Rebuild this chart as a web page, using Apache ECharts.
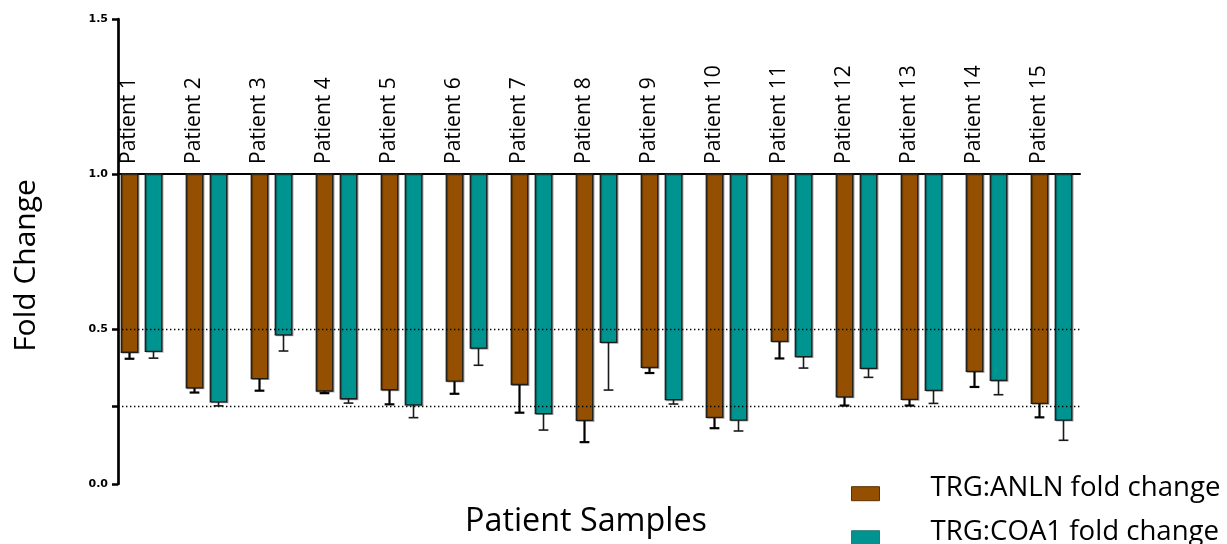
<!DOCTYPE html>
<html>
<head>
<meta charset="utf-8">
<script src="https://cdn.jsdelivr.net/npm/echarts@6/dist/echarts.min.js"></script>
<style>
html,body{margin:0;padding:0;background:#fff;}
#chart{width:1227px;height:544px;}
</style>
</head>
<body>
<div id="chart"></div>
<script>
// ---- data ----
const patients = ['Patient 1','Patient 2','Patient 3','Patient 4','Patient 5','Patient 6','Patient 7','Patient 8','Patient 9','Patient 10','Patient 11','Patient 12','Patient 13','Patient 14','Patient 15'];
const anlnFold = [0.425,0.310,0.340,0.300,0.304,0.332,0.321,0.205,0.376,0.215,0.460,0.281,0.273,0.363,0.260];
const anlnErr  = [0.021,0.015,0.039,0.007,0.047,0.041,0.091,0.070,0.018,0.035,0.055,0.028,0.020,0.050,0.045];
const coa1Fold = [0.428,0.265,0.481,0.275,0.255,0.438,0.227,0.457,0.272,0.206,0.411,0.373,0.302,0.334,0.206];
const coa1Err  = [0.022,0.013,0.052,0.014,0.041,0.055,0.053,0.154,0.014,0.035,0.037,0.029,0.042,0.046,0.065];
const yTickValues = [0, 0.25, 0.5, 1.0, 1.5];
const yLabelValues = [0, 0.5, 1.0, 1.5];
const refLines = [0.5, 0.25];
const baseline = 1.0;
const seriesNames = ['TRG:ANLN fold change', 'TRG:COA1 fold change'];

const ORANGE = '#945000';
const TEAL = '#009490';

function makeRender(offsetFrac, fill, errColor, errWidth) {
  return function (params, api) {
    const k = api.value(0), v = api.value(1), e = api.value(2);
    const unit = api.size([1, 0])[0];
    const top = api.coord([k, baseline]);
    const bot = api.coord([k, v]);
    const low = api.coord([k, v - e]);
    const cx = top[0] + offsetFrac * unit;
    const w = 0.253 * unit;
    const cap = 0.15 * unit;
    return {
      type: 'group',
      children: [
        {type: 'line', shape: {x1: cx, y1: bot[1], x2: cx, y2: low[1]}, style: {stroke: errColor, lineWidth: errWidth}},
        {type: 'line', shape: {x1: cx - cap / 2, y1: low[1], x2: cx + cap / 2, y2: low[1]}, style: {stroke: errColor, lineWidth: errWidth}},
        {type: 'rect', shape: {x: cx - w / 2, y: top[1], width: w, height: bot[1] - top[1]},
         style: {fill: fill, stroke: '#1c1c1c', lineWidth: 1.3, shadowColor: 'rgba(0,0,0,0.3)', shadowOffsetX: 1.2, shadowOffsetY: 0.8, shadowBlur: 0}}
      ]
    };
  };
}

const chart = echarts.init(document.getElementById('chart'), null, {renderer: 'canvas'});
const xMin = -0.177, xMax = 14.623;
chart.setOption({
  animation: false,
  backgroundColor: '#fff',
  grid: {left: 118, right: 147, top: 19, bottom: 60, containLabel: false, outerBoundsMode: 'none'},
  legend: {
    orient: 'vertical', left: 851, top: 473.7, height: 120, padding: 0, itemGap: 9.5,
    itemWidth: 28, itemHeight: 14,
    data: [
      {name: seriesNames[0], icon: 'rect', itemStyle: {color: ORANGE, borderColor: '#5a3000', borderWidth: 1}},
      {name: seriesNames[1], icon: 'rect', itemStyle: {color: TEAL, borderColor: '#2a7a78', borderWidth: 1}}
    ],
    formatter: function (name) { return '{a|' + name + '}\n{b| }'; },
    textStyle: {
      fontFamily: 'Open Sans', fontSize: 27.6, color: '#000', padding: [0, 0, 0, 46],
      rich: {
        a: {fontFamily: 'Open Sans', fontSize: 27.6, color: '#000', lineHeight: 28},
        b: {fontSize: 1, lineHeight: 12}
      }
    },
    selectedMode: false
  },
  xAxis: [
    {
      type: 'value', position: 'bottom', min: xMin, max: xMax,
      axisLine: {show: false, onZero: false}, axisTick: {show: false}, axisLabel: {show: false}, splitLine: {show: false},
      name: 'Patient Samples', nameLocation: 'middle', nameGap: 22,
      nameTextStyle: {fontFamily: 'Open Sans', fontSize: 32.3, color: '#000', padding: [0, 26, 0, 0]}
    },
    {
      type: 'value', position: 'top', offset: -155, min: xMin, max: xMax,
      axisLine: {show: true, onZero: false, lineStyle: {color: '#000', width: 2}},
      axisTick: {show: false}, splitLine: {show: false},
      axisLabel: {
        show: true, rotate: -90, margin: 10, customValues: patients.map((p, i) => i),
        formatter: function (v) { return patients[Math.round(v)] || ''; },
        fontFamily: 'Open Sans', fontSize: 21, color: '#000'
      }
    }
  ],
  yAxis: {
    type: 'value', min: 0, max: 1.5, interval: 0.5,
    name: 'Fold Change', nameLocation: 'middle', nameGap: 77,
    nameTextStyle: {fontFamily: 'Open Sans', fontSize: 30, color: '#000', padding: [0, 28, 0, 0]},
    axisLine: {show: true, onZero: false, lineStyle: {color: '#000', width: 2.7}},
    axisTick: {show: true, length: 6, lineStyle: {color: '#000', width: 2.5}, customValues: yTickValues},
    axisLabel: {
      show: true, margin: 10, customValues: yLabelValues,
      formatter: function (v) { return v.toFixed(1); },
      fontFamily: 'DejaVu Sans', fontWeight: 'bold', fontSize: 11, color: '#000'
    },
    splitLine: {show: false}
  },
  series: [
    {
      type: 'line', name: 'ref', data: [], z: 1, silent: true,
      markLine: {
        silent: true, symbol: ['none', 'none'], label: {show: false},
        lineStyle: {color: '#000', width: 1.4, type: [1.4, 2.6]},
        data: refLines.map(v => ({yAxis: v}))
      }
    },
    {
      type: 'custom', name: seriesNames[0], z: 3,
      itemStyle: {color: ORANGE},
      renderItem: makeRender(0, ORANGE, '#000', 2.2),
      encode: {x: 0, y: 1},
      data: anlnFold.map((v, i) => [i, v, anlnErr[i]])
    },
    {
      type: 'custom', name: seriesNames[1], z: 3,
      itemStyle: {color: TEAL},
      renderItem: makeRender(24 / 65, TEAL, '#1a1a1a', 1.6),
      encode: {x: 0, y: 1},
      data: coa1Fold.map((v, i) => [i, v, coa1Err[i]])
    }
  ]
});
</script>
</body>
</html>
